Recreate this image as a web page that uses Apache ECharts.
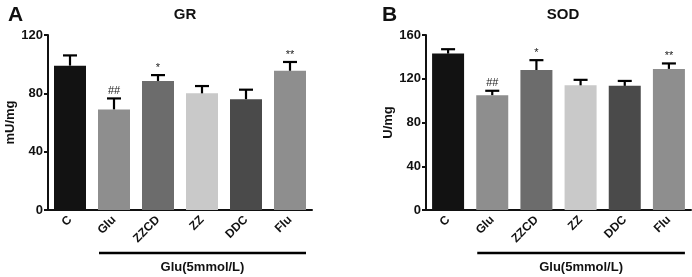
<!DOCTYPE html>
<html>
<head>
<meta charset="utf-8">
<script src="https://cdn.jsdelivr.net/npm/echarts@6/dist/echarts.min.js"></script>
<style>
  html, body { margin: 0; padding: 0; background: #fff; }
  #main { width: 692px; height: 277px; }
</style>
</head>
<body>
<div id="main"></div>
<script>
// groups, values
var groups = ['C', 'Glu', 'ZZCD', 'ZZ', 'DDC', 'Flu'];
var barColors = ['#121212', '#8e8e8e', '#6c6c6c', '#c9c9c9', '#4a4a4a', '#8e8e8e'];
var grMean = [99, 69, 88.5, 80, 76, 95.5];
var grErr = [7, 7.5, 4, 5, 6.5, 6];
var sodMean = [143, 105, 128, 114, 113.5, 129];
var sodErr = [4, 4, 9, 5, 4.5, 5];
var grMarks = ['', '##', '*', '', '', '**'];
var sodMarks = ['', '##', '*', '', '', '**'];
var grTicks = [0, 40, 80, 120];
var sodTicks = [0, 40, 80, 120, 160];

var FONT = 'Liberation Sans, Arial, sans-serif';
var chart = echarts.init(document.getElementById('main'));

function barData(mean) {
    var out = [];
    for (var i = 0; i < mean.length; i++) {
        out.push({ value: mean[i], itemStyle: { color: barColors[i] } });
    }
    return out;
}
function errData(mean, err, marks) {
    var out = [];
    for (var i = 0; i < mean.length; i++) {
        out.push([i, mean[i], mean[i] + err[i], marks[i]]);
    }
    return out;
}
// error bar drawn upward only, with cap and star label
function renderErr(params, api) {
    var x = api.value(0);
    var lo = api.coord([x, api.value(1)]);
    var hi = api.coord([x, api.value(2)]);
    var cap = 7;
    var kids = [
        { type: 'line', shape: { x1: lo[0], y1: lo[1], x2: hi[0], y2: hi[1] }, style: { stroke: '#000', lineWidth: 2.2 } },
        { type: 'line', shape: { x1: hi[0] - cap, y1: hi[1], x2: hi[0] + cap, y2: hi[1] }, style: { stroke: '#000', lineWidth: 2.2 } }
    ];
    var m = api.value(3);
    if (m) {
        kids.push({ type: 'text', style: { text: m, x: hi[0], y: hi[1] - 2, align: 'center', verticalAlign: 'bottom', font: '11px ' + FONT, fill: '#222' } });
    }
    return { type: 'group', children: kids };
}

function yAx(idx, ticks, name) {
    return {
        gridIndex: idx, type: 'value', min: ticks[0], max: ticks[ticks.length - 1],
        interval: ticks[1] - ticks[0],
        name: name, nameLocation: 'middle', nameRotate: 90, nameGap: 30,
        nameTextStyle: { fontFamily: FONT, fontWeight: 'bold', fontSize: 13, color: '#111' },
        axisLine: { show: true, lineStyle: { color: '#111', width: 2 } },
        axisTick: { show: true, length: 4, lineStyle: { color: '#111', width: 2 } },
        axisLabel: { fontFamily: FONT, fontWeight: 'bold', fontSize: 13, color: '#111', margin: 5 },
        splitLine: { show: false }
    };
}
function xAx(idx) {
    return {
        gridIndex: idx, type: 'category', data: groups,
        axisLine: { lineStyle: { color: '#111', width: 2 } },
        axisTick: { show: false },
        axisLabel: { rotate: 45, fontFamily: FONT, fontWeight: 'bold', fontSize: 12, color: '#111', margin: 8, interval: 0 }
    };
}

chart.setOption({
    animation: false,
    title: [
        { text: 'A', left: 3, top: 0, textStyle: { fontFamily: FONT, fontWeight: 'bold', fontSize: 21, color: '#111' } },
        { text: 'GR', left: 180, top: 2, textAlign: 'center', textStyle: { fontFamily: FONT, fontWeight: 'bold', fontSize: 15, color: '#111' } },
        { text: 'B', left: 377, top: 0, textStyle: { fontFamily: FONT, fontWeight: 'bold', fontSize: 21, color: '#111' } },
        { text: 'SOD', left: 558, top: 2, textAlign: 'center', textStyle: { fontFamily: FONT, fontWeight: 'bold', fontSize: 15, color: '#111' } }
    ],
    grid: [
        { left: 48, top: 35, width: 264, bottom: 67 },
        { left: 426, top: 35, width: 265, bottom: 67 }
    ],
    xAxis: [xAx(0), xAx(1)],
    yAxis: [yAx(0, grTicks, 'mU/mg'), yAx(1, sodTicks, 'U/mg')],
    series: [
        { type: 'bar', xAxisIndex: 0, yAxisIndex: 0, data: barData(grMean), barWidth: 32 },
        { type: 'custom', xAxisIndex: 0, yAxisIndex: 0, renderItem: renderErr, data: errData(grMean, grErr, grMarks), z: 3 },
        { type: 'bar', xAxisIndex: 1, yAxisIndex: 1, data: barData(sodMean), barWidth: 32 },
        { type: 'custom', xAxisIndex: 1, yAxisIndex: 1, renderItem: renderErr, data: errData(sodMean, sodErr, sodMarks), z: 3 }
    ]
});

// group bracket under Glu..Flu with its label
function bracket(idx) {
    var a = chart.convertToPixel({ xAxisIndex: idx }, 'Glu');
    var b = chart.convertToPixel({ xAxisIndex: idx }, 'Flu');
    var x1 = a - 15, x2 = b + 16;
    return [
        { type: 'line', shape: { x1: x1, y1: 253, x2: x2, y2: 253 }, style: { stroke: '#000', lineWidth: 2.5 } },
        { type: 'text', x: (x1 + x2) / 2, y: 267, style: { text: 'Glu(5mmol/L)', align: 'center', verticalAlign: 'middle', font: 'bold 13px ' + FONT, fill: '#111' } }
    ];
}
chart.setOption({ graphic: bracket(0).concat(bracket(1)) });
</script>
</body>
</html>
